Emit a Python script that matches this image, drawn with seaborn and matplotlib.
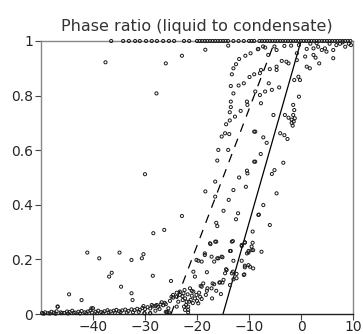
import matplotlib
matplotlib.use("Agg")
import matplotlib.pyplot as plt
import seaborn as sns
import pandas as pd

# ---- data ----
top_x = [-36.5, -34.2, -33.1, -31.9, -31.0, -29.8, -28.7, -27.7, -26.5, -25.4, -24.4,
         -22.5, -21.5, -20.0, -19.5, -19.0, -18.5, -18.0, -17.5, -17.0, -16.5, -16.0,
         -15.5, -15.0, -14.5, -14.0, -13.0, -12.0, -11.0, -10.0, -9.5, -9.0, -8.0,
         -7.5, -7.0, -6.5, -6.0, -5.5, -5.0, -4.5, -4.0, -3.5, -3.0, -2.5, -2.0, -1.5,
         -1.0, -0.5, 0.0, 0.5, 1.0, 1.5, 2.0, 2.5, 3.0, 3.5, 4.0, 4.5, 5.0, 5.5, 6.0,
         6.5, 7.0, 7.5, 8.0, 8.5, 9.0, 9.5]

base_x = [-49.8, -49.2, -48.6, -48.0, -47.5, -47.0, -46.8, -46.2, -45.6, -45.0, -44.5,
          -44.0, -43.4, -42.8, -42.2, -41.6, -41.0, -40.5, -40.0, -39.5, -39.0, -38.4,
          -37.8, -37.2, -36.6, -36.0, -35.5, -35.0, -34.4, -33.8, -33.2, -32.6, -32.0,
          -31.5, -31.0, -30.5, -30.0, -29.5, -29.0, -28.5, -28.0, -27.5, -27.0, -26.5,
          -49.5, -48.3, -47.2, -46.0, -44.8, -43.7, -42.5, -41.3, -40.2, -39.2, -38.1,
          -37.0, -35.8, -34.7, -33.5, -32.3, -31.2, -30.1, -29.0, -28.0, -27.2, -26.0,
          -25.4]
base_y = [0.004, 0.006, 0.003, 0.008, 0.005, 0.010, 0.027, 0.006, 0.004, 0.009, 0.007,
          0.012, 0.005, 0.008, 0.011, 0.006, 0.009, 0.013, 0.021, 0.008, 0.012, 0.007,
          0.010, 0.014, 0.009, 0.012, 0.015, 0.010, 0.013, 0.016, 0.011, 0.017, 0.014,
          0.019, 0.015, 0.022, 0.018, 0.025, 0.020, 0.028, 0.030, 0.026, 0.035, 0.032,
          0.001, 0.002, 0.001, 0.003, 0.002, 0.004, 0.002, 0.003, 0.005, 0.003, 0.004,
          0.006, 0.004, 0.007, 0.005, 0.006, 0.008, 0.003, 0.003, 0.012, 0.018, 0.008,
          0.006]

upper_x = [-37.6, -26.0, -27.8, -30.0, -22.9, -18.4, -14.0,
           -14.4, -13.7, -13.7, -13.5, -13.5, -13.0, -13.5, -13.3, -13.0, -12.5, -11.9,
           -10.7, -9.7, -8.3, -7.3, -12.0, -11.0, -9.9, -9.0, -10.4, -10.3, -11.6, -12.7,
           -15.25, -15.9, -16.1, -14.6, -13.8, -14.0,
           -8.2, -6.9, -6.3, -5.1, -4.7, -3.2, -1.9, -0.4, 1.1, 2.4, 3.3, 4.0, 4.6, 4.9,
           6.2, 8.5, 0.8, 2.4, 2.8, 3.5, 6.2, -0.8, -0.8, -3.7, -2.8, -2.4, -4.7, -4.7,
           -6.0, -7.7, -7.9, 1.1, 1.7, -0.5, -0.2, -1.3, -6.2, -4.2, -5.6, -6.9, -7.9,
           -8.8, -7.7, -0.4, -5.3, -1.5, -1.3, -1.5, -3.1, -2.4, -1.8, -1.8, -1.6, -1.2,
           -1.4, -8.8, -7.25, -6.6, -4.0, -3.2, -2.6, -9.0,
           5.5, 6.8, 7.5, 8.0, 9.2, 9.6, 3.0, 1.8]
upper_y = [0.922, 0.918, 0.808, 0.512, 0.946, 0.968, 0.983,
           0.695, 0.709, 0.739, 0.758, 0.778, 0.808, 0.835, 0.878, 0.900, 0.915, 0.934,
           0.946, 0.955, 0.970, 0.980, 0.837, 0.845, 0.868, 0.878, 0.778, 0.766, 0.744, 0.723,
           0.650, 0.601, 0.562, 0.662, 0.659, 0.601,
           0.971, 0.976, 0.949, 0.980, 0.967, 0.982, 0.983, 0.985, 0.971, 0.973, 0.979, 0.967, 0.973, 0.961,
           0.967, 0.979, 0.943, 0.949, 0.939, 0.918, 0.937, 0.955, 0.930, 0.927, 0.924, 0.918, 0.906, 0.894,
           0.897, 0.894, 0.882, 0.906, 0.900, 0.869, 0.857, 0.857, 0.845, 0.830, 0.821, 0.815, 0.802,
           0.815, 0.772, 0.796, 0.729, 0.766, 0.747, 0.729, 0.729, 0.719, 0.712, 0.700, 0.690, 0.717,
           0.705, 0.668, 0.647, 0.627, 0.662, 0.655, 0.641, 0.668,
           0.990, 0.985, 0.990, 0.995, 0.990, 0.985, 0.992, 0.990]

mid_x = [-7.75, -8.8, -3.4, -5.1, -5.6, -4.7, -7.25, -8.2, -6.0,
         -9.0, -10.4, -10.3, -16.5, -11.9, -13.0, -10.6, -18.4, -16.5, -13.9, -14.9,
         -12.1, -12.5, -22.9, -16.3, -8.1, -16.1, -9.3, -28.4, -26.3]
mid_y = [0.586, 0.558, 0.554, 0.527, 0.513, 0.442, 0.399, 0.363, 0.326,
         0.558, 0.525, 0.515, 0.485, 0.500, 0.454, 0.466, 0.449, 0.430, 0.418, 0.378,
         0.369, 0.347, 0.359, 0.334, 0.364, 0.322, 0.302, 0.296, 0.308]

low_x = [-17.4, -16.5, -13.1, -10.8, -9.3, -9.5, -9.2, -10.1, -7.6, -11.4, -13.5, -18.5,
         -15.9, -15.1, -16.7, -19.75, -19.1, -13.0, -11.4, -10.1, -9.2, -10.8, -9.8,
         -20.7, -20.4, -18.1, -14.4, -14.6, -13.3, -12.4, -11.0, -15.1, -15.7, -14.9,
         -17.0, -17.2, -13.65, -13.0, -16.3, -18.1, -19.3, -21.35, -15.4, -17.1, -19.75,
         -21.7, -22.3,
         -30.3, -30.6, -32.6, -28.5, -25.0, -32.6, -32.4, -41.1, -38.8, -34.9, -36.9,
         -36.4, -34.6, -44.6, -42.2, -46.8, -40.3,
         -28.7, -27.75, -26.8, -26.0, -25.5, -25.2, -24.6, -24.9, -23.9, -23.3, -22.6,
         -22.3, -22.0, -21.7, -21.7, -20.7, -20.1, -19.4, -20.4, -21.0, -19.1, -18.8,
         -20.1, -18.5, -17.2, -16.1, -15.25, -17.5, -16.3, -13.65, -13.3, -11.4, -10.8,
         -10.1, -9.5, -10.4, -14.3, -13.1, -10.9, -10.8, -12.4, -15.6, -16.7, -18.0,
         -18.3, -19.1, -21.5, -22.1, -22.75, -22.5, -23.6, -23.9, -25.7, -30.1, -29.0,
         -30.3, -26.2, -25.8, -23.9, -23.3, -24.6,
         -22.8, -21.8, -21.2, -20.8, -20.0, -19.6, -22.4, -21.0]
low_y = [0.256, 0.265, 0.267, 0.261, 0.261, 0.247, 0.234, 0.225, 0.228, 0.249, 0.231, 0.216,
         0.204, 0.208, 0.192, 0.195, 0.192, 0.195, 0.195, 0.179, 0.167, 0.171, 0.173,
         0.155, 0.137, 0.153, 0.164, 0.149, 0.149, 0.147, 0.143, 0.115, 0.115, 0.125,
         0.112, 0.094, 0.106, 0.127, 0.085, 0.085, 0.103, 0.094, 0.073, 0.057, 0.039,
         0.027, 0.015,
         0.219, 0.204, 0.198, 0.140, 0.121, 0.076, 0.051, 0.225, 0.204, 0.225, 0.137,
         0.151, 0.100, 0.072, 0.051, 0.027, 0.021,
         0.033, 0.033, 0.043, 0.036, 0.021, 0.048, 0.060, 0.063, 0.063, 0.070, 0.076,
         0.057, 0.045, 0.015, 0.006, 0.082, 0.070, 0.063, 0.057, 0.067, 0.100, 0.112,
         0.198, 0.222, 0.210, 0.204, 0.210, 0.259, 0.265, 0.231, 0.265, 0.253, 0.263,
         0.231, 0.234, 0.222, 0.161, 0.155, 0.145, 0.177, 0.131, 0.116, 0.109, 0.094,
         0.070, 0.055, 0.045, 0.033, 0.051, 0.027, 0.045, 0.027, 0.006, 0.003, 0.003,
         0.029, 0.041, 0.008, 0.078, 0.082, 0.070,
         0.065, 0.072, 0.052, 0.040, 0.048, 0.078, 0.088, 0.085]

dashed_x = [-25, -5]
dashed_y = [0, 1]
solid_x = [-15, 0]
solid_y = [0, 1]

x_ticks = [-40, -30, -20, -10, 0, 10]
y_ticks = [0, 0.2, 0.4, 0.6, 0.8, 1]
y_ticklabels = ["0", "0.2", "0.4", "0.6", "0.8", "1"]
title = "Phase ratio (liquid to condensate)"

# ---- build table ----
xs = top_x + base_x + upper_x + mid_x + low_x
ys = [1.0] * len(top_x) + base_y + upper_y + mid_y + low_y
df = pd.DataFrame({"T": xs, "ratio": ys})
lines = pd.DataFrame({
    "T": dashed_x + solid_x,
    "ratio": dashed_y + solid_y,
    "kind": ["dashed"] * 2 + ["solid"] * 2,
})

sns.set_style("white")
plt.rcParams["font.family"] = ["DejaVu Sans"]

fig = plt.figure(figsize=(3.63, 3.34), dpi=100)
ax = fig.add_axes([41 / 363, 20 / 334, 312 / 363, 273 / 334])

sns.scatterplot(data=df, x="T", y="ratio", ax=ax, marker="o", s=5,
                facecolors="none", edgecolor="#1a1a1a", linewidth=0.7,
                clip_on=False, zorder=3)
sns.lineplot(data=lines[lines.kind == "dashed"], x="T", y="ratio", ax=ax,
             color="black", linewidth=0.9, dashes=False, estimator=None,
             linestyle=(0, (7, 6)))
sns.lineplot(data=lines[lines.kind == "solid"], x="T", y="ratio", ax=ax,
             color="black", linewidth=0.9, estimator=None)

ax.set_xlim(-50, 10)
ax.set_ylim(0, 1)
ax.set_xticks(x_ticks)
ax.set_yticks(y_ticks)
ax.set_yticklabels(y_ticklabels)
ax.set_xlabel("")
ax.set_ylabel("")
ax.tick_params(axis="both", direction="out", length=4, width=0.8, labelsize=10,
               color="#444444", pad=1.5)
ax.tick_params(axis="x", pad=0.5)
ax.tick_params(axis="both", which="both", top=False, right=False, bottom=True, left=True)
for side in ["left", "right", "top"]:
    ax.spines[side].set_color("#888888")
    ax.spines[side].set_linewidth(1.0)
ax.spines["bottom"].set_color("#222222")
ax.spines["bottom"].set_linewidth(1.0)
ax.set_title(title, fontsize=11.5, pad=7, color="#333333")

fig.savefig("out.png", dpi=100)
